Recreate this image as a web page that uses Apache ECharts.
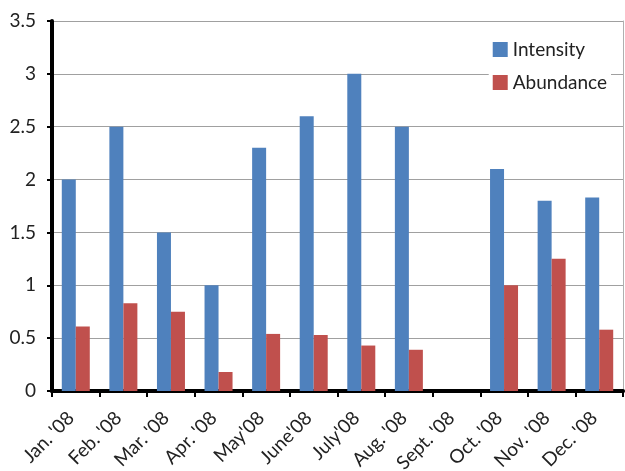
<!DOCTYPE html>
<html>
<head>
<meta charset="utf-8">
<script src="https://cdn.jsdelivr.net/npm/echarts@6/dist/echarts.min.js"></script>
<style>
  html, body { margin: 0; padding: 0; background: #fff; }
  #chart { width: 625px; height: 471px; }
</style>
</head>
<body>
<div id="chart"></div>
<script>
// Monthly categories for 2008
const months = ["Jan. '08", "Feb. '08", "Mar. '08", "Apr. '08", "May'08", "June'08",
                "July'08", "Aug. '08", "Sept. '08", "Oct. '08", "Nov. '08", "Dec. '08"];
// Series values (September has no measurement)
const intensity = [2.0, 2.5, 1.5, 1.0, 2.3, 2.6, 3.0, 2.5, null, 2.1, 1.8, 1.83];
const abundance = [0.61, 0.83, 0.75, 0.18, 0.54, 0.53, 0.43, 0.39, null, 1.0, 1.25, 0.58];
// Value axis range
const yMin = 0, yMax = 3.5, yStep = 0.5;

const font = "Lato, 'Open Sans', sans-serif";
const chart = echarts.init(document.getElementById('chart'), null, { renderer: 'canvas' });

chart.setOption({
  animation: false,
  backgroundColor: '#fff',
  textStyle: { fontFamily: font },
  grid: {
    left: 52, right: 2, top: 21, bottom: 80,
    containLabel: false,
    outerBoundsMode: 'none'
  },
  legend: {
    data: ['Intensity', 'Abundance'],
    orient: 'vertical',
    right: 14,
    top: 38,
    itemWidth: 15,
    itemHeight: 15,
    itemGap: 14,
    icon: 'rect',
    backgroundColor: '#fff',
    padding: [2, 4, 2, 4],
    textStyle: { fontFamily: font, fontSize: 19, color: '#222' }
  },
  xAxis: [
    {
      type: 'category',
      data: months,
      axisLine: { lineStyle: { color: '#000', width: 3 } },
      axisTick: { show: true, alignWithLabel: false, length: 6, lineStyle: { color: '#000', width: 2 } },
      axisLabel: {
        rotate: 45,
        interval: 0,
        margin: 19,
        padding: [0, 7, 0, 0],
        fontFamily: font,
        fontSize: 19,
        color: '#222'
      },
      splitLine: { show: false }
    },
    {
      // heavy frame line along the top of the plot
      type: 'category',
      data: months,
      position: 'top',
      axisLine: { lineStyle: { color: '#000', width: 4 } },
      axisTick: { show: false },
      axisLabel: { show: false },
      splitLine: { show: false }
    }
  ],
  yAxis: [
    {
      type: 'value',
      min: yMin,
      max: yMax,
      interval: yStep,
      axisLine: { show: true, lineStyle: { color: '#000', width: 4 } },
      axisTick: { show: true, length: 5, lineStyle: { color: '#000', width: 2 } },
      axisLabel: {
        margin: 16,
        fontFamily: font,
        fontSize: 19,
        color: '#222',
        formatter: v => String(v)
      },
      splitLine: { show: true, lineStyle: { color: '#a0a0a0', width: 1.2 } }
    },
    {
      // thin frame line on the right side
      type: 'value',
      position: 'right',
      min: yMin,
      max: yMax,
      interval: yStep,
      axisLine: { show: true, lineStyle: { color: '#b0b0b0', width: 1 } },
      axisTick: { show: false },
      axisLabel: { show: false },
      splitLine: { show: false }
    }
  ],
  series: [
    {
      name: 'Intensity',
      type: 'bar',
      data: intensity,
      barWidth: 14,
      barGap: '0%',
      itemStyle: { color: '#4f81bd' }
    },
    {
      name: 'Abundance',
      type: 'bar',
      data: abundance,
      barWidth: 14,
      barGap: '0%',
      itemStyle: { color: '#c0504d' }
    }
  ]
});
</script>
</body>
</html>
